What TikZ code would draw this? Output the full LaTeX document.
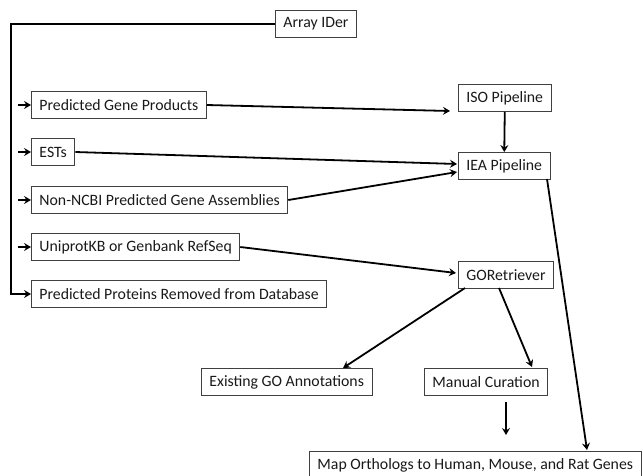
\documentclass[tikz,border=0pt]{standalone}
\usepackage{fontspec}
\setmainfont{Carlito}
\usetikzlibrary{arrows.meta}
\tikzset{
  box/.style={draw=black!75, line width=0.9pt, anchor=west, minimum height=27pt, inner xsep=8pt, inner ysep=0pt, font=\fontsize{15.8}{18}\selectfont, text=black!90},
  conn/.style={draw=black, line width=1.8pt, -{Stealth[length=7pt,width=8pt,inset=2.5pt]}},
  line/.style={draw=black, line width=1.8pt}
}
\begin{document}
\begin{tikzpicture}[x=1pt,y=-1pt]
\useasboundingbox (0,0) rectangle (643,475);
\clip (0,0) rectangle (643,475);
% nodes
\node[box] (array) at (275,24) {Array IDer};
\node[box] (pgp) at (31,105) {Predicted Gene Products};
\node[box] (ests) at (31,152) {ESTs};
\node[box] (nonncbi) at (31,200) {Non-NCBI Predicted Gene Assemblies};
\node[box] (uniprot) at (31,247) {UniprotKB or Genbank RefSeq};
\node[box] (removed) at (31,294) {Predicted Proteins Removed from Database};
\node[box] (iso) at (458,98) {ISO Pipeline};
\node[box] (iea) at (458,166) {IEA Pipeline};
\node[box] (gor) at (458,275) {GORetriever};
\node[box] (existing) at (201,382) {Existing GO Annotations};
\node[box] (manual) at (424,382) {Manual Curation};
\node[box, minimum height=28pt] (map) at (309,465) {Map Orthologs to Human, Mouse, and Rat Genes};
% coordinates
\coordinate (corner) at (11,24);
\coordinate (s1) at (18,105);
\coordinate (s2) at (18,152);
\coordinate (s3) at (18,200);
\coordinate (s4) at (18,247);
\coordinate (isoin) at (450,111);
\coordinate (iea1) at (457,164);
\coordinate (iea2) at (457,172);
\coordinate (gorin) at (456,273);
\coordinate (g1) at (465,288);
\coordinate (exin) at (343,368);
\coordinate (g2) at (499,288);
\coordinate (manin) at (532,367);
\coordinate (m1) at (506,402);
\coordinate (m2) at (506,435);
\coordinate (ieaout) at (547,179);
\coordinate (mapin) at (587,450);
% connectors
\draw[conn] (array.west) -- (corner) |- (removed.west);
\draw[conn] (s1) -- (pgp.west);
\draw[conn] (s2) -- (ests.west);
\draw[conn] (s3) -- (nonncbi.west);
\draw[conn] (s4) -- (uniprot.west);
\draw[conn] (pgp.east) -- (isoin);
\draw[conn] (iso.south) -- (iea.north);
\draw[conn] (ests.east) -- (iea1);
\draw[conn] (nonncbi.east) -- (iea2);
\draw[conn] (uniprot.east) -- (gorin);
\draw[conn] (g1) -- (exin);
\draw[conn] (g2) -- (manin);
\draw[conn] (m1) -- (m2);
\draw[conn] (ieaout) -- (mapin);
\end{tikzpicture}
\end{document}
